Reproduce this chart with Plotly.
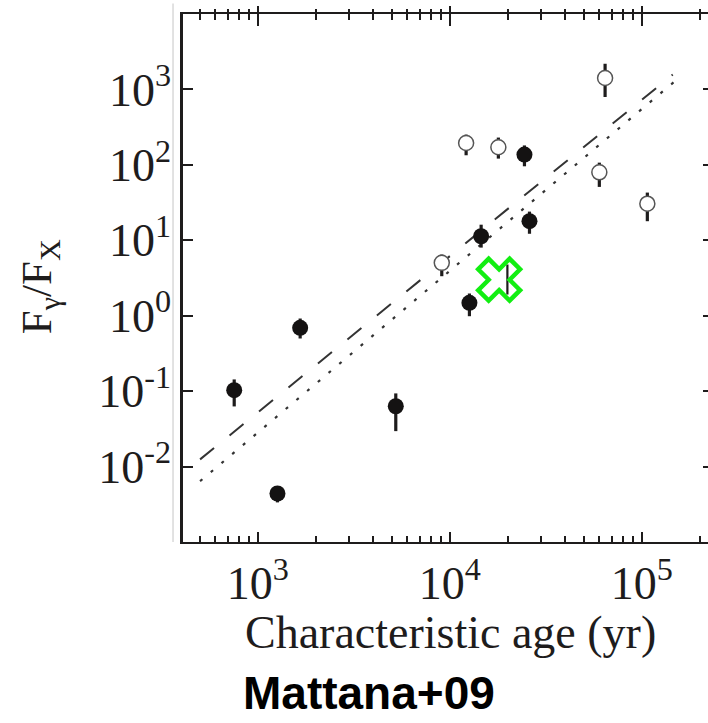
import plotly.graph_objects as go

# Pulsars detected by H.E.S.S. (filled) and candidates (open): age vs gamma/X flux ratio
filled_age = [753, 1265, 1661, 5230, 12650, 14560, 24480, 26000]
filled_ratio = [0.103, 0.0044, 0.69, 0.063, 1.48, 11.3, 137, 17.9]
filled_hi = [0.143, 0.0046, 0.918, 0.0933, 1.97, 16.1, 181, 24.0]
filled_lo = [0.0627, 0.00335, 0.499, 0.0295, 0.985, 8.0, 95.7, 12.2]

open_age = [9080, 12160, 17900, 60100, 64400, 106900]
open_ratio = [5.02, 195, 171, 79.6, 1419, 30.6]
open_hi = [6.47, 252, 230, 107, 2190, 42.9]
open_lo = [3.34, 134, 121, 51, 794, 17.9]

# source covered by the highlight cross
hidden_age = [19950]
hidden_ratio = [3.0]
hidden_hi = [4.77]
hidden_lo = [1.91]

# highlighted object
mark_age = [18070]
mark_ratio = [3.0]

# power-law fits (end points)
dash_age = [500, 145000]
dash_ratio = [0.01245, 1570]
dot_age = [500, 152000]
dot_ratio = [0.0064, 1346]

x_ticks = [1e3, 1e4, 1e5]
x_ticktext = ["10<sup>3</sup>", "10<sup>4</sup>", "10<sup>5</sup>"]
y_ticks = [1e-2, 1e-1, 1e0, 1e1, 1e2, 1e3]
y_ticktext = ["10<sup>-2</sup>", "10<sup>-1</sup>", "10<sup>0</sup>",
              "10<sup>1</sup>", "10<sup>2</sup>", "10<sup>3</sup>"]
x_minor = [m * d for d in (100, 1000, 10000, 100000) for m in range(2, 10)]

XR = [2.61, 5.345]
YR = [-3, 4]
INK = "#1e1c1c"
SERIF = "Liberation Serif"


def err(v, hi, lo):
    return dict(type="data", symmetric=False,
                array=[h - y for h, y in zip(hi, v)],
                arrayminus=[y - l for l, y in zip(lo, v)],
                color=INK, thickness=3.2, width=0)


fig = go.Figure()

fig.add_trace(go.Scatter(x=dash_age, y=dash_ratio, mode="lines",
                         line=dict(color="#333", width=2, dash="18px,20px")))
fig.add_trace(go.Scatter(x=dot_age, y=dot_ratio, mode="lines",
                         line=dict(color="#333", width=2.2, dash="3px,11px")))

fig.add_trace(go.Scatter(x=hidden_age, y=hidden_ratio, mode="markers",
                         marker=dict(size=1, color="white"),
                         error_y=dict(err(hidden_ratio, hidden_hi, hidden_lo), thickness=2.2)))

fig.add_trace(go.Scatter(x=filled_age, y=filled_ratio, mode="markers",
                         marker=dict(size=16, color="#141212"),
                         error_y=err(filled_ratio, filled_hi, filled_lo)))

fig.add_trace(go.Scatter(x=open_age, y=open_ratio, mode="markers",
                         marker=dict(size=15, color="white",
                                     line=dict(color="#555", width=1.5)),
                         error_y=err(open_ratio, open_hi, open_lo)))

fig.add_trace(go.Scatter(x=mark_age, y=mark_ratio, mode="markers",
                         marker=dict(symbol="x-open", size=37, color="#12ee12",
                                     line=dict(width=4.5, color="#12ee12"))))

# invisible traces so the auxiliary top/right axes get drawn
fig.add_trace(go.Scatter(x=[1e3], y=[1], xaxis="x2", yaxis="y", mode="markers",
                         marker=dict(opacity=0), hoverinfo="skip"))
fig.add_trace(go.Scatter(x=[1e3], y=[1], xaxis="x3", yaxis="y", mode="markers",
                         marker=dict(opacity=0), hoverinfo="skip"))
fig.add_trace(go.Scatter(x=[1e3], y=[1], xaxis="x", yaxis="y2", mode="markers",
                         marker=dict(opacity=0), hoverinfo="skip"))

fig.update_layout(
    width=708, height=723,
    margin=dict(l=183, r=0, t=14, b=181),
    paper_bgcolor="white", plot_bgcolor="white",
    showlegend=False,
    xaxis=dict(type="log", range=XR, showgrid=False, zeroline=False,
               showline=True, linecolor=INK, linewidth=2.2,
               ticks="inside", ticklen=10, tickwidth=2, tickcolor=INK,
               tickvals=x_ticks, ticktext=x_ticktext,
               minor=dict(tickvals=x_minor, ticks="inside", ticklen=6,
                          tickwidth=1.6, tickcolor=INK),
               tickfont=dict(family=SERIF, size=46, color=INK)),
    xaxis2=dict(type="log", range=XR, overlaying="x", side="top", anchor="y",
                showgrid=False, zeroline=False, showline=True, linecolor=INK,
                linewidth=2.2, ticks="inside", ticklen=12, tickwidth=2,
                tickcolor=INK, tickvals=x_ticks, showticklabels=False,
                minor=dict(tickvals=x_minor, ticks="inside", ticklen=6,
                           tickwidth=1.6, tickcolor=INK)),
    xaxis3=dict(type="log", range=XR, overlaying="x", side="top", anchor="y",
                showgrid=False, zeroline=False, showline=False,
                ticks="outside", ticklen=7, tickwidth=2, tickcolor=INK,
                tickvals=x_ticks, showticklabels=False,
                minor=dict(tickvals=x_minor, ticks="outside", ticklen=4,
                           tickwidth=1.6, tickcolor=INK)),
    yaxis=dict(type="log", range=YR, showgrid=False, zeroline=False,
               showline=True, linecolor=INK, linewidth=2.6,
               ticks="inside", ticklen=10, tickwidth=2, tickcolor=INK,
               tickvals=y_ticks, ticktext=y_ticktext,
               tickfont=dict(family=SERIF, size=46, color=INK)),
    yaxis2=dict(type="log", range=YR, overlaying="y", side="right", anchor="x",
                showgrid=False, zeroline=False, showline=False,
                ticks="inside", ticklen=5, tickwidth=2, tickcolor=INK,
                tickvals=y_ticks, showticklabels=False),
)

# thin frame edge left of the axis
fig.add_shape(type="line", xref="paper", yref="paper",
              x0=-0.019, x1=-0.019, y0=0, y1=1.02,
              line=dict(color="#cfcfcf", width=1.2))

fig.add_annotation(text="F<sub>γ</sub>/F<sub>X</sub>", xref="paper", yref="paper",
                   x=-0.272, y=0.483, textangle=-90, showarrow=False,
                   xanchor="center", yanchor="middle",
                   font=dict(family=SERIF, size=43, color=INK))
fig.add_annotation(text="Characteristic age (yr)", xref="paper", yref="paper",
                   x=0.509, y=-0.172, showarrow=False,
                   xanchor="center", yanchor="middle",
                   font=dict(family=SERIF, size=46, color=INK))
fig.add_annotation(text="<b>Mattana+09</b>", xref="paper", yref="paper",
                   x=0.112, y=-0.337, showarrow=False,
                   xanchor="left", yanchor="bottom", borderpad=0,
                   font=dict(family="Liberation Sans", size=46, color="black"))

fig.write_html("out.html")
